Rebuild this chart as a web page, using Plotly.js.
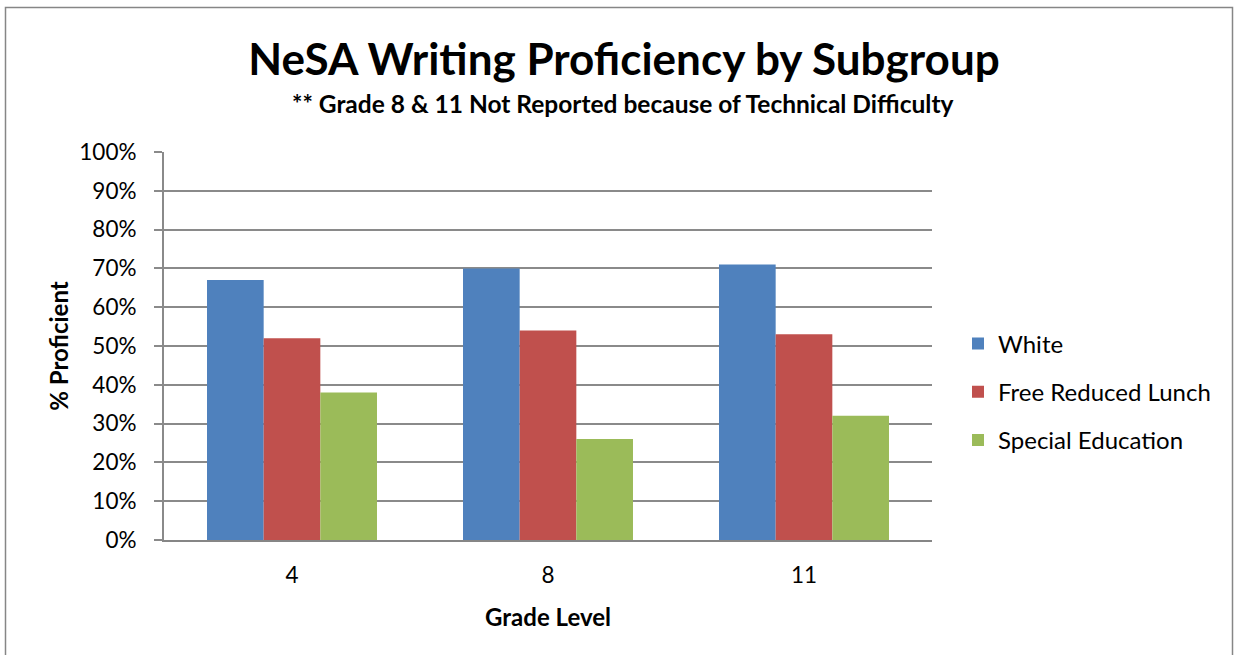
<!DOCTYPE html>
<html>
<head>
<meta charset="utf-8">
<script src="https://cdn.plot.ly/plotly-3.0.1.min.js"></script>
<style>html,body{margin:0;padding:0;background:#fff;}#chart{width:1239px;height:655px;}</style>
</head>
<body>
<div id="chart"></div>
<script>
const grades = ['4', '8', '11'];
const white = [0.67, 0.70, 0.71];
const freeReducedLunch = [0.52, 0.54, 0.53];
const specialEducation = [0.38, 0.26, 0.32];
const seriesNames = ['White', 'Free Reduced Lunch', 'Special Education'];
const colors = ['#4F81BD', '#C0504D', '#9BBB59'];

const FONT = 'Lato, Carlito, Calibri, sans-serif';
const vals = [white, freeReducedLunch, specialEducation];
const traces = vals.map((v, i) => ({
  type: 'bar', x: grades, y: v, name: seriesNames[i],
  marker: {color: colors[i]}, legendgroup: 'g' + i,
  hoverinfo: 'y+name'
}));

const L = 164, R = 932, T = 152, B = 540;
const px = x => (x - L) / (R - L);
const py = y => (B - y) / (B - T);

const layout = {
  width: 1239, height: 655,
  margin: {l: L, r: 1239 - R, t: T, b: 655 - B},
  paper_bgcolor: '#fff', plot_bgcolor: '#fff',
  barmode: 'group', bargap: 0.336, bargroupgap: 0,
  font: {family: FONT, color: '#000', size: 22},
  title: {text: '<b>NeSA Writing Proficiency by Subgroup</b>', font: {size: 44, family: FONT, color: '#000'},
    x: px(624), xanchor: 'center', xref: 'paper', y: 1 - 60/655, yanchor: 'middle', yref: 'container'},
  annotations: [
    {text: '<b>** Grade 8 & 11 Not Reported because of Technical Difficulty</b>', xref: 'paper', yref: 'paper',
     x: px(623), y: py(103), xanchor: 'center', yanchor: 'middle', showarrow: false, font: {size: 24.5, family: FONT}}
  ],
  xaxis: {type: 'category', showgrid: false, zeroline: false, showline: true, linecolor: '#868686', linewidth: 2,
    ticks: '', tickfont: {size: 22.5, family: FONT}, ticklabelstandoff: 14,
    title: {text: '<b>Grade Level</b>', font: {size: 24, family: FONT}, standoff: 22}},
  yaxis: {range: [0, 1], dtick: 0.1, tickformat: '.0%', showgrid: true, gridcolor: '#8a8a8a', gridwidth: 2,
    zeroline: false, showline: true, linecolor: '#8a8a8a', linewidth: 2, ticks: 'outside', ticklen: 8,
    tickcolor: '#8a8a8a', tickwidth: 2, tickfont: {size: 22.5, family: FONT}, ticklabelstandoff: 13,
    title: {text: '<b>% Proficient</b>', font: {size: 24, family: FONT}, standoff: 4}},
  legend: {x: px(958), y: py(392), xanchor: 'left', yanchor: 'middle', font: {size: 24, family: FONT},
    traceorder: 'grouped', tracegroupgap: 14, itemwidth: 30, bgcolor: 'rgba(0,0,0,0)'},
  shapes: [
    {type: 'rect', xref: 'paper', yref: 'paper', x0: px(5.5), x1: px(1232.5), y0: py(665), y1: py(7.5),
     line: {color: '#868686', width: 1.5}, fillcolor: 'rgba(0,0,0,0)', layer: 'below'}
  ],
  showlegend: true
};

Plotly.newPlot('chart', traces, layout, {displayModeBar: false, staticPlot: true});
</script>
</body>
</html>
